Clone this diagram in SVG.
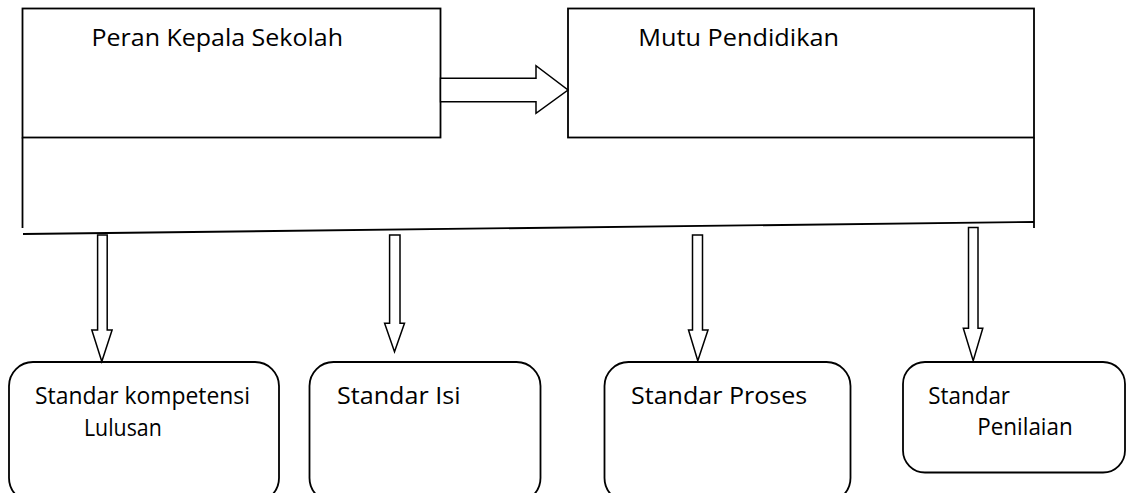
<svg xmlns="http://www.w3.org/2000/svg" width="1126" height="493" viewBox="0 0 1126 493">
<style>
.box{fill:none;stroke:#000;stroke-width:1.8}
.ln{fill:none;stroke:#000;stroke-width:1.8}
.arr{fill:#fff;stroke:#000;stroke-width:1.5;stroke-linejoin:miter}
.t{font-family:"Open Sans","Noto Sans",sans-serif;font-size:23px;fill:#000}
</style>
<rect width="1126" height="493" fill="#fff"/>
<g id="bracket">
<line class="ln" x1="22.5" y1="137.5" x2="22.5" y2="228"/>
<line class="ln" x1="1034" y1="137.5" x2="1034" y2="228"/>
<line class="ln" x1="23" y1="234" x2="1034" y2="222"/>
</g>
<g id="node-peran">
<rect class="box" x="22.5" y="8.5" width="418" height="129"/>
<text class="t" x="91.5" y="46" textLength="251.5" lengthAdjust="spacingAndGlyphs">Peran Kepala Sekolah</text>
</g>
<g id="node-mutu">
<rect class="box" x="568" y="8.5" width="466" height="129"/>
<text class="t" x="638.3" y="46" textLength="200.7" lengthAdjust="spacingAndGlyphs">Mutu Pendidikan</text>
</g>
<g id="node-skl">
<rect class="box" x="9" y="362" width="270" height="140" rx="24" ry="24"/>
<text class="t" x="35" y="404.3" textLength="215" lengthAdjust="spacingAndGlyphs">Standar kompetensi</text>
<text class="t" x="84" y="435.5" textLength="77.7" lengthAdjust="spacingAndGlyphs">Lulusan</text>
</g>
<g id="node-isi">
<rect class="box" x="309.5" y="362" width="231" height="140" rx="24" ry="24"/>
<text class="t" x="337" y="404.3" textLength="123.5" lengthAdjust="spacingAndGlyphs">Standar Isi</text>
</g>
<g id="node-proses">
<rect class="box" x="604.5" y="362" width="246" height="140" rx="24" ry="24"/>
<text class="t" x="631" y="404.3" textLength="176.3" lengthAdjust="spacingAndGlyphs">Standar Proses</text>
</g>
<g id="node-penilaian">
<rect class="box" x="903" y="362" width="222" height="110.5" rx="22" ry="22"/>
<text class="t" x="928.3" y="404" textLength="81.7" lengthAdjust="spacingAndGlyphs">Standar</text>
<text class="t" x="977.3" y="435" textLength="95.4" lengthAdjust="spacingAndGlyphs">Penilaian</text>
</g>
<g id="connectors">
<polygon class="arr" points="440.5,78.3 536,78.3 536,65.7 568,90 536,113.3 536,101.7 440.5,101.7"/>
<polygon class="arr" points="97.6,235 107.2,235 107.2,330 112.1,330 101.8,361.5 91.8,330 97.6,330"/>
<polygon class="arr" points="389.6,235 400,235 400,323.3 404.5,323.3 394.5,351.7 384.6,323.3 389.6,323.3"/>
<polygon class="arr" points="692.5,235 702.5,235 702.5,330 708,330 697.8,360.7 688.5,330 692.5,330"/>
<polygon class="arr" points="968.5,227.5 978,227.5 978,328.3 982.8,328.3 973.2,360.7 963.3,328.3 968.5,328.3"/>
</g>
</svg>
